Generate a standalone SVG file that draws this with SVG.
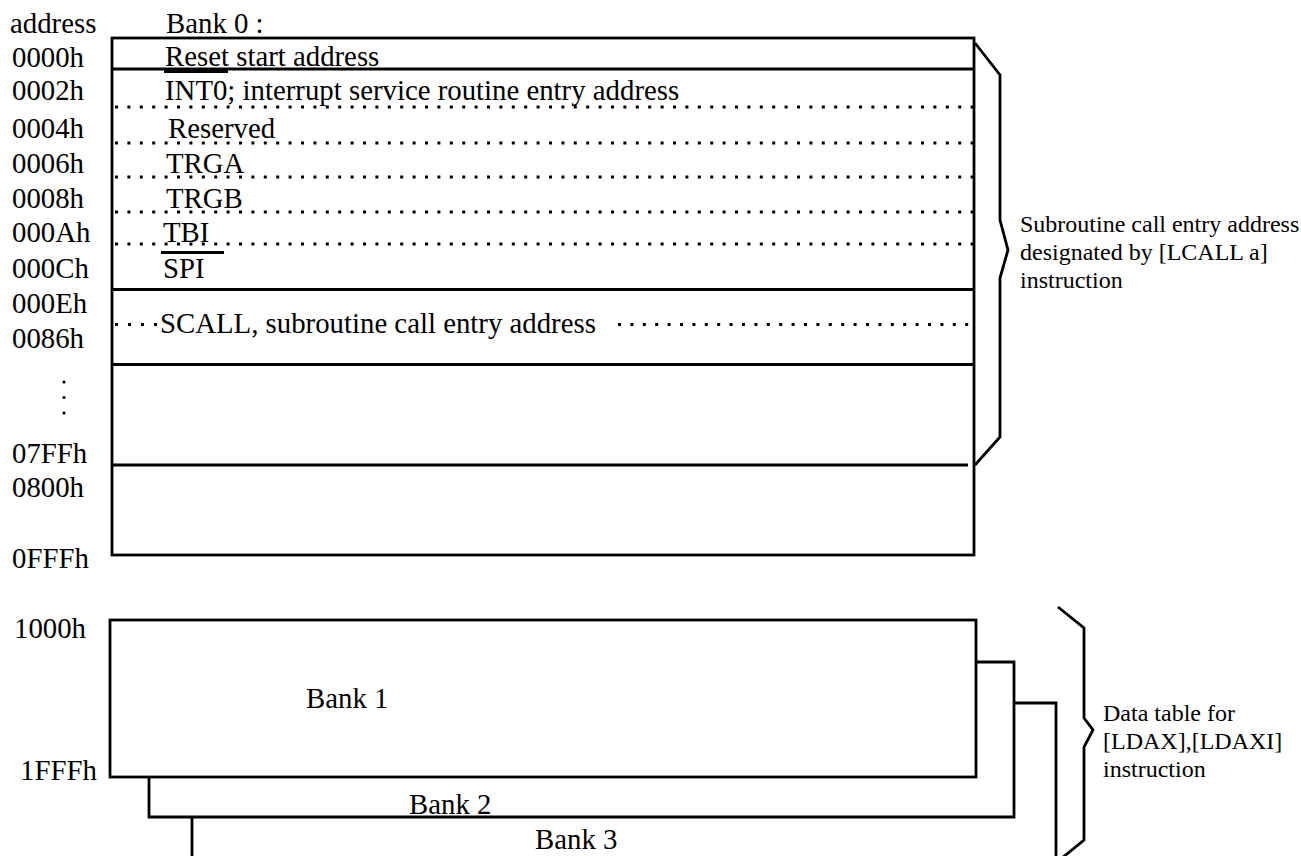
<svg xmlns="http://www.w3.org/2000/svg" width="1301" height="856" viewBox="0 0 1301 856">
<style>
.t{font-family:"Liberation Serif","Times New Roman",serif;font-size:28.8px;fill:#000}
.s{font-size:24px}
.ln{stroke:#000;stroke-width:2.8;fill:none}
.sep{stroke:#000;stroke-width:3;fill:none}
.dot{stroke:#000;stroke-width:3;stroke-dasharray:3 9.4;fill:none}
</style>
<rect width="1301" height="856" fill="#fff"/>
<g id="address-labels" class="t">
<text x="10" y="33">address</text>
<text x="12" y="66.5">0000h</text>
<text x="12" y="100">0002h</text>
<text x="12" y="138">0004h</text>
<text x="12" y="173">0006h</text>
<text x="12" y="208">0008h</text>
<text x="12" y="241.5">000Ah</text>
<text x="12" y="278">000Ch</text>
<text x="12" y="313">000Eh</text>
<text x="12" y="348">0086h</text>
<circle cx="64" cy="382" r="1.6" fill="#000"/>
<circle cx="64" cy="397.5" r="1.6" fill="#000"/>
<circle cx="64" cy="413" r="1.6" fill="#000"/>
<text x="12" y="463">07FFh</text>
<text x="12" y="497">0800h</text>
<text x="12" y="568">0FFFh</text>
<text x="14" y="638">1000h</text>
<text x="20" y="780">1FFFh</text>
</g>
<g id="bank0">
<text class="t" x="166" y="33">Bank 0 :</text>
<rect class="ln" x="112" y="38" width="862" height="517"/>
<line class="sep" x1="112" y1="69" x2="974" y2="69"/>
<line class="dot" x1="115" y1="107" x2="973" y2="107"/>
<line class="dot" x1="115" y1="143" x2="973" y2="143"/>
<line class="dot" x1="115" y1="177" x2="973" y2="177"/>
<line class="dot" x1="115" y1="212" x2="973" y2="212"/>
<line class="dot" x1="115" y1="244" x2="973" y2="244"/>
<line class="sep" x1="112" y1="289.5" x2="974" y2="289.5"/>
<line class="dot" x1="115" y1="324.5" x2="158" y2="324.5" style="stroke-dasharray:3 10"/>
<line class="dot" x1="618" y1="324.5" x2="973" y2="324.5"/>
<line class="sep" x1="112" y1="364.5" x2="974" y2="364.5"/>
<line class="sep" x1="112" y1="465" x2="968" y2="465"/>
<line class="ln" x1="164" y1="71.5" x2="228" y2="71.5"/>
<line class="ln" x1="161" y1="252.5" x2="224" y2="252.5"/>
<g class="t">
<text x="165" y="66">Reset start address</text>
<text x="165" y="100">INT0; interrupt service routine entry address</text>
<text x="168" y="138">Reserved</text>
<text x="166" y="173">TRGA</text>
<text x="166" y="208">TRGB</text>
<text x="163" y="241.5">TBI</text>
<text x="163" y="278">SPI</text>
<text x="160" y="333">SCALL, subroutine call entry address</text>
</g>
</g>
<g id="bank1">
<rect class="ln" x="110" y="620" width="866" height="157"/>
<text class="t" x="306" y="708">Bank 1</text>
</g>
<g id="bank2">
<path class="ln" d="M976,662 H1014 V817 H149 V777"/>
<text class="t" x="409" y="814">Bank 2</text>
</g>
<g id="bank3">
<path class="ln" d="M1014,703 H1056 V860 M192,817 V860"/>
<text class="t" x="535" y="849">Bank 3</text>
</g>
<g id="connectors">
<path id="brace-lcall" class="ln" d="M975,43 L1000,75 V220 L1008,250 L1000,278 V437 L975,465"/>
<path id="brace-ldax" class="ln" d="M1058,607 L1084,628 V718 L1093,730 L1084,747 V840 L1062,858"/>
</g>
<g id="label-lcall" class="t s">
<text x="1020" y="232">Subroutine call entry address</text>
<text x="1020" y="260">designated by [LCALL a]</text>
<text x="1020" y="288">instruction</text>
</g>
<g id="label-ldax" class="t s">
<text x="1103" y="721">Data table for</text>
<text x="1103" y="749">[LDAX],[LDAXI]</text>
<text x="1103" y="777">instruction</text>
</g>
</svg>
